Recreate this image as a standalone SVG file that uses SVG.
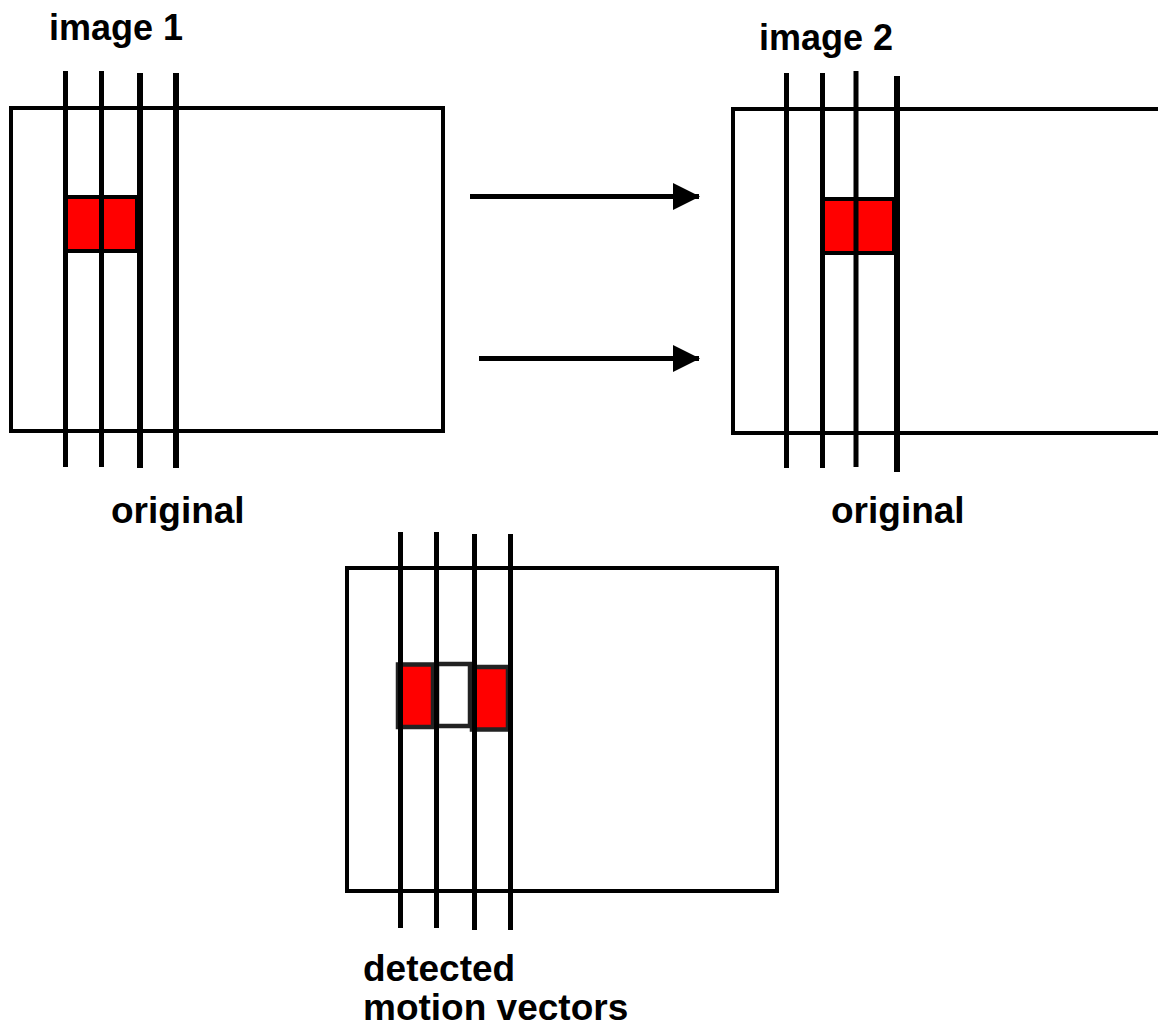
<svg xmlns="http://www.w3.org/2000/svg" width="1158" height="1028" viewBox="0 0 1158 1028">
<style>
.frame{fill:#fff;stroke:#000;stroke-width:4}
.ln{stroke:#000;stroke-width:5;fill:none}
.ln6{stroke:#000;stroke-width:6;fill:none}
.blk{fill:#f00;stroke:#000;stroke-width:4}
.blk3{fill:#f00;stroke:#222;stroke-width:4.5}
.emp{fill:#fff;stroke:#222;stroke-width:4.5}
.conn{stroke:#000;stroke-width:5;fill:none}
text{font-family:"Liberation Sans",Arial,sans-serif;font-weight:bold;font-size:36px;fill:#000}
.big{font-size:37px}
</style>
<defs>
<marker id="ah" markerUnits="userSpaceOnUse" markerWidth="28" markerHeight="28" refX="26" refY="13.5" orient="auto">
<path d="M0,0 L27,13.5 L0,27 Z" fill="#000"/>
</marker>
</defs>
<rect width="1158" height="1028" fill="#fff"/>
<g id="image1">
<rect class="frame" x="11" y="108" width="432" height="323"/>
<rect class="blk" x="66" y="197" width="71" height="54"/>
<line class="ln" x1="65.5" y1="71" x2="65.5" y2="467"/>
<line class="ln" x1="101.5" y1="71" x2="101.5" y2="467"/>
<line class="ln6" x1="140" y1="73" x2="140" y2="468"/>
<line class="ln6" x1="176" y1="73" x2="176" y2="468"/>
<text x="49" y="40">image 1</text>
<text class="big" x="111" y="523">original</text>
</g>
<g id="image2">
<rect class="frame" x="733" y="109" width="440" height="324"/>
<rect class="blk" x="823" y="199" width="71" height="54"/>
<line class="ln" x1="786.5" y1="73" x2="786.5" y2="468"/>
<line class="ln" x1="822.5" y1="73" x2="822.5" y2="468"/>
<line class="ln" x1="856" y1="71" x2="856" y2="467"/>
<line class="ln6" x1="897" y1="76" x2="897" y2="472"/>
<text x="759" y="50">image 2</text>
<text class="big" x="831" y="523">original</text>
</g>
<g id="detected">
<rect class="frame" x="347" y="568" width="430" height="323"/>
<rect class="blk3" x="398" y="664.5" width="35" height="62.5"/>
<rect class="emp" x="437" y="664" width="33" height="62"/>
<rect class="blk3" x="472" y="667" width="36" height="62.5"/>
<line class="ln" x1="400.5" y1="532" x2="400.5" y2="928"/>
<line class="ln" x1="436.5" y1="532" x2="436.5" y2="928"/>
<line class="ln" x1="474.5" y1="534" x2="474.5" y2="930"/>
<line class="ln" x1="510.5" y1="534" x2="510.5" y2="930"/>
<text class="big" x="363" y="981">detected</text>
<text class="big" x="363" y="1020">motion vectors</text>
</g>
<g id="connectors">
<line class="conn" x1="470" y1="196.5" x2="699" y2="196.5" marker-end="url(#ah)"/>
<line class="conn" x1="479" y1="358.5" x2="699" y2="358.5" marker-end="url(#ah)"/>
</g>
</svg>
